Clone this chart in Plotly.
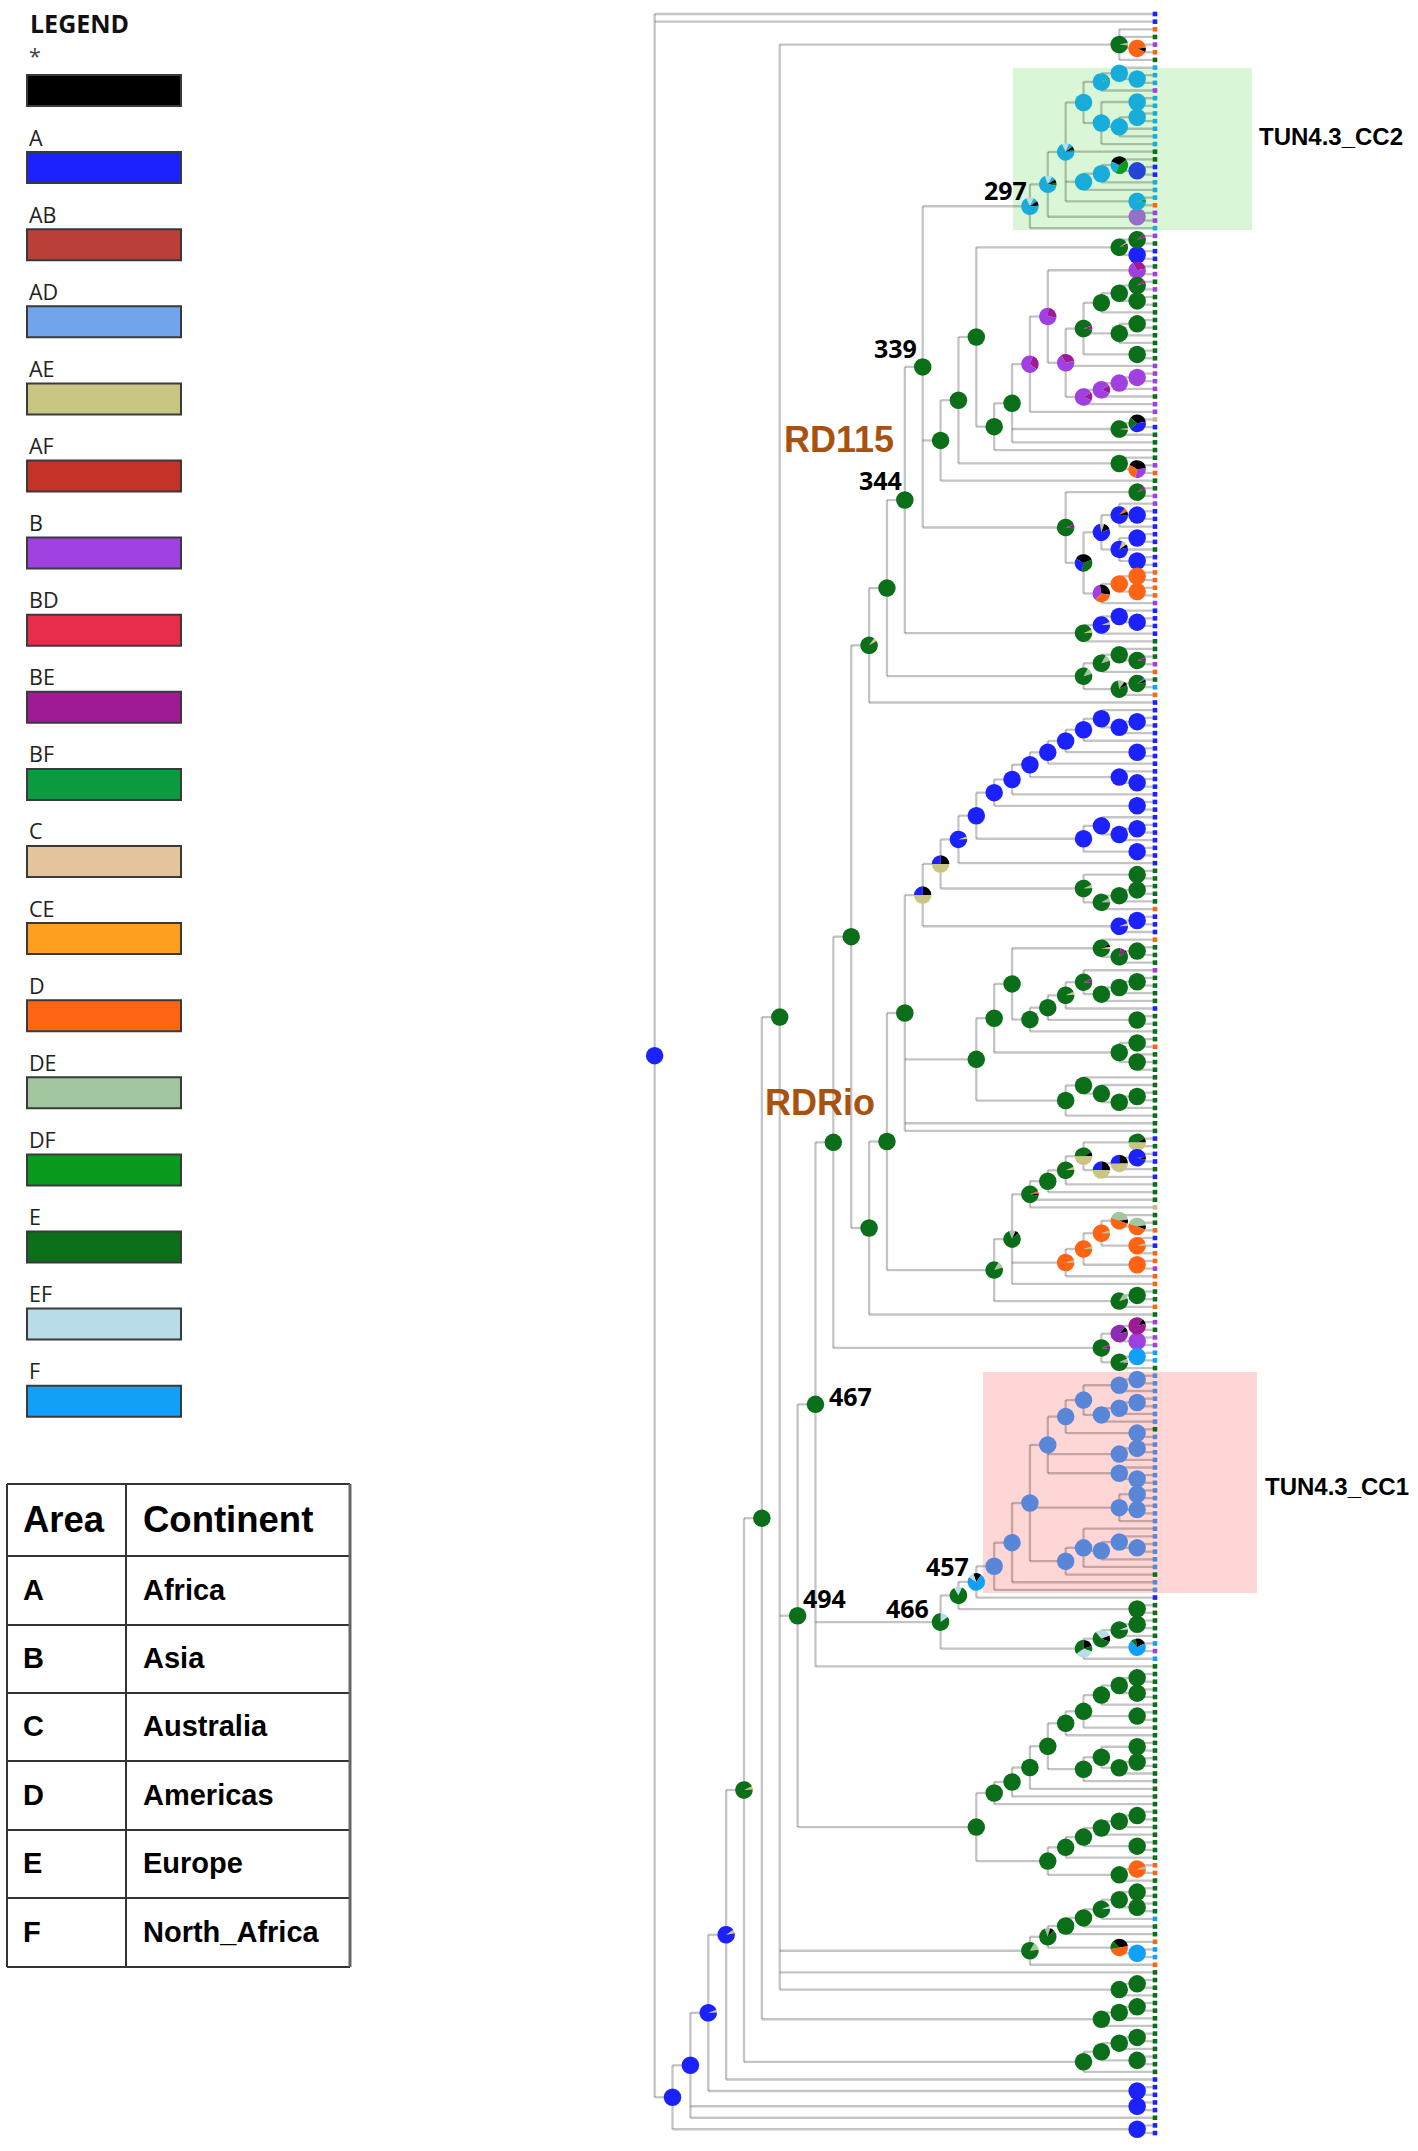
import plotly.graph_objects as go

# ---------- data ----------
COLORS = {"k": "#000000", "A": "#1c22ff", "a": "#2344d6", "AB": "#b93f38", "AD": "#72a4ec", "AE": "#c9c583",
          "AF": "#c43228", "B": "#a040e0", "BD": "#e82c4c", "BE": "#a01a96", "BF": "#0c9a40", "C": "#c8b88a",
          "Cl": "#e4c49c", "CE": "#ffa020", "D": "#ff6414", "DE": "#a2c79e", "DF": "#0a9a1e", "E": "#0b6e18",
          "EF": "#b8dde8", "F": "#10a0f8", "T": "#18acda", "P": "#5a86d8", "M": "#9570c8", "Bm": "#8f2ab4"}

LEGEND_LABELS = ["*", "A", "AB", "AD", "AE", "AF", "B", "BD", "BE", "BF", "C", "CE", "D", "DE", "DF", "E", "EF", "F"]
LEGEND_KEYS = ["k", "A", "AB", "AD", "AE", "AF", "B", "BD", "BE", "BF", "Cl", "CE", "D", "DE", "DF", "E", "EF", "F"]
AREAS = ["Area", "A", "B", "C", "D", "E", "F"]
CONTINENTS = ["Continent", "Africa", "Asia", "Australia", "Americas", "Europe", "North_Africa"]

# clockwise slices: states, shares, start angle from 12 o'clock
PIES = {
    "p01": (["DE", "E"], [.05, .95], 78), "p02": (["k", "D"], [.08, .92], 85),
    "p03": (["DF", "T"], [.03, .97], 60), "p04": (["k", "DF", "T"], [.33, .42, .25], 295),
    "p05": (["DF", "T"], [.05, .95], 75), "p06": (["EF", "T", "k", "E", "T"], [.13, .08, .07, .03, .69], 335),
    "p07": (["EF", "T", "k", "E", "T"], [.14, .07, .08, .04, .67], 340),
    "p08": (["EF", "T", "k", "T"], [.14, .08, .09, .69], 335),
    "p09": (["AE", "k", "E"], [.03, .03, .94], 55), "p10": (["BE", "E"], [.06, .94], 50),
    "p11": (["BE", "B"], [.3, .7], 330), "p12": (["BE", "B"], [.25, .75], 5),
    "p13": (["BE", "E"], [.07, .93], 70), "p14": (["BE", "B"], [.15, .85], 60),
    "p15": (["k", "A", "E"], [.36, .42, .22], 310), "p16": (["AE", "E"], [.03, .97], 85),
    "p17": (["k", "B", "D"], [.4, .3, .3], 300), "p18": (["D", "k", "A"], [.07, .07, .86], 40),
    "p19": (["AE", "k", "A"], [.08, .14, .78], 350), "p20": (["AE", "k", "A"], [.1, .06, .84], 20),
    "p21": (["k", "E", "A"], [.36, .34, .3], 300), "p22": (["k", "D", "B"], [.3, .35, .35], 350),
    "p23": (["AE", "E"], [.06, .94], 65), "p24": (["AE", "A"], [.05, .95], 70),
    "p25": (["DE", "E"], [.12, .88], 30), "p26": (["DE", "k", "E"], [.13, .07, .8], 350),
    "p27": (["F", "k", "E"], [.03, .05, .92], 55), "p28": (["AE", "E"], [.07, .93], 35),
    "p29": (["k", "AE", "A"], [.25, .5, .25], 0), "p30": (["DE", "E"], [.08, .92], 60),
    "p31": (["k", "AE", "E"], [.06, .04, .9], 60), "p32": (["BE", "k", "E"], [.1, .02, .88], 10),
    "p33": (["E", "k", "AE"], [.42, .08, .5], 270), "p34": (["k", "A"], [.05, .95], 85),
    "p35": (["D", "k", "E"], [.04, .04, .92], 70), "p36": (["DE", "k", "D"], [.42, .08, .5], 290),
    "p37": (["DE", "D"], [.05, .95], 72), "p38": (["DE", "k", "E"], [.12, .07, .81], 340),
    "p39": (["k", "BE"], [.1, .9], 40), "p40": (["k", "Bm"], [.1, .9], 40),
    "p41": (["BE", "E"], [.08, .92], 70), "p42": (["k", "F", "EF"], [.15, .75, .1], 340),
    "p43": (["EF", "E"], [.15, .85], 330), "p44": (["EF", "E"], [.05, .95], 68),
    "p45": (["EF", "k", "E"], [.3, .12, .58], 320), "p46": (["k", "E", "EF", "E"], [.2, .1, .35, .35], 0),
    "p47": (["E", "k", "F"], [.1, .2, .7], 315), "p48": (["EF", "E"], [.15, .85], 0),
    "p49": (["k", "D", "E"], [.35, .5, .15], 315), "p50": (["DE", "k", "E"], [.1, .08, .82], 340),
    "p51": (["DE", "E"], [.15, .85], 30), "p52": (["AE", "A"], [.07, .93], 55),
    "p53": (["AE", "A"], [.05, .95], 70), "p54": (["BE", "B"], [.3, .7], 20),
    "p55": (["DE", "k", "E"], [.08, .02, .9], 65),
}

# topology, read top to bottom; leaf = tip state, ")X" = state or pie of that node
TOP = "(D,E,(B,D)p02,E)p01"
CC2_A = "(((T,(T,T)T)T,B)p03,((T,T)T,((T,T)T,T,T)T,T)T)T"
CC2_B = "(((E,(A,A)a)p04,T)T,T)T"
CC2_C = f"({CC2_A},E,{CC2_B},(T,D)p05)p06"
CC2 = f"(({CC2_C},(B,B)M)p07,T)p08"
R1 = "((B,E)p10,(A,A)A)p09"
R2 = "(((E,B)p10,(E,E)E)E,E)E"
R3 = f"({R2},((E,E)E,E,E)E,(E,E)E)p13"
R4 = "((((B,B)B,B)B,E)p14,B)p14"
R5 = f"({R3},B,{R4})p11"
R6 = f"((E,B)p11,{R5})p12"
R7 = f"({R6},B)p54"
R8 = f"({R7},((C,A)p15,E)p16,E)E"
R9 = f"({R8},E)E"
R10 = f"({R1},{R9})E"
R11 = f"({R10},(E,(B,D)p17)E)E"
R12 = f"({R11},E)E"
S1 = "(B,(A,A)A,A)p18"
S2 = "((A,A)A,E,(A,A)A)p20"
S3 = f"({S1},{S2})p19"
S4 = "(((D,D)D,(D,D)D)D,B)p22"
S5 = f"((E,B)p10,({S3},{S4})p21)p13"
N339 = f"({CC2},{R12},{S5})E"
N344 = f"({N339},(((A,(A,A)A)A,A)p24,E)p23)E"
Q1 = "((E,(E,B)p13)E,D)p25"
Q2 = "((E,F)p27,D)p26"
N462A = f"(({N344},({Q1},{Q2})p25)E,A)p28"
B1 = "(A,((A,A)A,A)A)A"
B2 = f"({B1},A)A"
B3 = f"({B2},(A,A)A)A"
B4 = f"({B3},A)A"
B5 = f"({B4},(A,(A,A)A)A)A"
B6 = f"({B5},A)A"
B7 = f"({B6},(A,A)A)A"
B8 = "((A,((A,A)A,A)A)A,(A,A)A)A"
B9 = f"(({B7},{B8})A,A)p24"
G1 = "((E,E)E,(((E,E)E,E)E,D)p30)p23"
B10 = f"(({B9},{G1})p29,((A,A)A,A)p24)p29"
G2 = "(D,((E,E)E,E)p32)p31"
G3 = "((B,(((E,E)E,E)E,E)E)p13,A)p23"
G4 = f"(({G3},(E,E)E)E,E)E"
G5 = f"(({G2},{G4})E,((E,D)E,(E,E,E)E)E)E"
G6 = "((E,(E,((E,E)E,E)E)E)E,E)E"
N534 = f"({B10},({G5},{G6})E,E,E)E"
M1 = "((A,E)p33,(((A,A)p34,E)p29,A)p29)p33"
M2 = f"((({M1},E)p23,E)E,E,C)p35"
O1 = "(E,(E,D)p36)p36"
O2 = f"((({O1},(A,A,D)p37)p37,(D,B)D)p37,D)p37"
M3 = f"({M2},{O2},D)p38"
N426 = f"({N462A},(({N534},({M3},((E,E)E,D)p25)p25)E,E)E)E"
V1 = "(((B,E)p39,(B,B)B)p40,((F,F)F,E)p55)p41"
N390 = f"({N426},{V1})E"
C1 = "(((P,P)P,P)P,(((P,P)P,P)P,P)P)P"
C2 = f"({C1},(E,P)P)P"
C3 = f"({C2},((P,P)P,P)P,(P,(P,P)P)P)P"
C4 = "((P,P)P,(P,P)P,P)P"
C5 = "(P,((P,(P,P)P)P,P)P,P)P"
C6 = f"({C3},{C4},({C5},E)P)P"
CC1 = f"((({C6},P)P,P)P,A)p42"
K1 = "((((E,E)E,E)p44,(F,B)p47)p45,F)p46"
N354 = f"({N390},(({CC1},(E,E)E)p43,{K1})p48,E)E"
L1 = "(((((E,E)E,(E,E)E)E,E)E,(E,E)E,E)E,E)E"
L2 = "(((E,E)E,((E,E)E,E)E)E,E)E"
L3 = f"((({L1},{L2})E,E)E,E)E"
L4 = f"({L3},E)E"
W1 = "((((E,E)E,E)E,E)E,(E,E)E)E"
W2 = f"(({W1},E)E,((D,D)p37,E)E)E"
N318 = f"({N354},({L4},{W2})E)E"
Y1 = "((((E,E)E,(E,E)E)E,F)p44,E)E"
Y2 = f"(({Y1},E)E,(D,(F,F)F)p49)p50"
N282 = f"({TOP},{N318},({Y2},D)p51,E,((E,E)E,E)E)E"
N246 = f"({N282},(((E,E)E,E)E,E)E)E"
N210 = f"({N246},((((E,E)E,E)E,(E,E)E)E,E)E)p23"
N138 = f"(({N210},A)p52,(A,A)A)p53"
N66 = f"(({N138},(A,A)A,E)A,(A,A)A)A"
TREE = f"(A,A,{N66})A"

CLADE_BOXES = [("TUN4.3_CC2", "#d9f7d6"), ("TUN4.3_CC1", "#ffd6d6")]
NODE_NUMBERS = ["297", "339", "344", "467", "494", "457", "466"]
GROUP_NAMES = ["RD115", "RDRio"]

# ---------- layout constants (pixels) ----------
W, H = 1418, 2151
TIP_PX, LEVEL_PX = 1155.0, 17.87
TOP_PX, ROW_PX = 14.0, 7.65
NODE_D = 17.5


def parse(text):
    stack, pos = [], 0
    root = None
    while pos < len(text):
        ch = text[pos]
        if ch == "(":
            stack.append({"kids": []})
            pos += 1
        elif ch == ",":
            pos += 1
        else:
            end = pos + (1 if ch == ")" else 0)
            start = end
            while end < len(text) and text[end] not in "(),":
                end += 1
            label = text[start:end]
            if ch == ")":
                node = stack.pop()
                node["label"] = label
            else:
                node = {"kids": [], "label": label}
            if stack:
                stack[-1]["kids"].append(node)
            else:
                root = node
            pos = end
    return root


root = parse(TREE)
tips, nodes = [], []


def place(n):
    if not n["kids"]:
        n["level"], n["row"] = 0, len(tips)
        tips.append(n)
        return
    for k in n["kids"]:
        place(k)
    n["level"] = 1 + max(k["level"] for k in n["kids"])
    n["row"] = (n["kids"][0]["row"] + n["kids"][-1]["row"]) / 2
    nodes.append(n)


place(root)

lx, ly = [], []
for n in nodes:
    lx += [n["level"], n["level"], None]
    ly += [n["kids"][0]["row"], n["kids"][-1]["row"], None]
    for k in n["kids"]:
        lx += [n["level"], k["level"], None]
        ly += [k["row"], k["row"], None]

fig = go.Figure()
fig.add_trace(go.Scatter(x=lx, y=ly, mode="lines", line=dict(color="rgba(0,0,0,0.23)", width=2.3),
                         hoverinfo="skip", showlegend=False))
fig.add_trace(go.Scatter(x=[t["level"] for t in tips], y=[t["row"] for t in tips], mode="markers",
                         marker=dict(symbol="square", size=4.6, color=[COLORS[t["label"]] for t in tips]),
                         hoverinfo="skip", showlegend=False))
solid = [n for n in nodes if n["label"] in COLORS]
fig.add_trace(go.Scatter(x=[n["level"] for n in solid], y=[n["row"] for n in solid], mode="markers",
                         marker=dict(size=NODE_D, color=[COLORS[n["label"]] for n in solid], line=dict(width=0)),
                         hoverinfo="skip", showlegend=False))
for n in nodes:
    if n["label"] in PIES:
        st, sh, rot = PIES[n["label"]]
        cx = TIP_PX - LEVEL_PX * n["level"]
        cy = TOP_PX + ROW_PX * n["row"]
        r = NODE_D / 2
        fig.add_trace(go.Pie(values=sh, labels=[str(i) for i in range(len(sh))], sort=False, direction="clockwise",
                             rotation=rot, textinfo="none", hoverinfo="skip", showlegend=False,
                             marker=dict(colors=[COLORS[s] for s in st], line=dict(width=0)),
                             domain=dict(x=[(cx - r) / W, (cx + r) / W], y=[1 - (cy + r) / H, 1 - (cy - r) / H])))


def px(x):
    return x / W


def py(y):
    return 1 - y / H


shapes, ann = [], []


def rect(x0, y0, x1, y1, fill, line=None, lw=0, layer="below"):
    shapes.append(dict(type="rect", xref="paper", yref="paper", x0=px(x0), x1=px(x1), y0=py(y0), y1=py(y1),
                       fillcolor=fill, line=dict(color=line or fill, width=lw), layer=layer))


def hv(x0, y0, x1, y1, color="#333333", lw=2):
    shapes.append(dict(type="line", xref="paper", yref="paper", x0=px(x0), x1=px(x1), y0=py(y0), y1=py(y1),
                       line=dict(color=color, width=lw)))


def text(s, x, y, size, color="#000000", family="Liberation Sans", anchor="left"):
    ann.append(dict(text=s, xref="paper", yref="paper", x=px(x), y=py(y), xanchor=anchor, yanchor="middle",
                    showarrow=False, font=dict(size=size, color=color, family=family), borderpad=0, borderwidth=0))


# clade boxes
rect(1013, 68, 1252, 230, CLADE_BOXES[0][1])
rect(983, 1372, 1257, 1593, CLADE_BOXES[1][1])
text(f"<b>{CLADE_BOXES[0][0]}</b>", 1259, 136, 24)
text(f"<b>{CLADE_BOXES[1][0]}</b>", 1265, 1486, 24)

# node numbers
for s, (x, y) in zip(NODE_NUMBERS, [(1005, 190), (895, 348), (880, 480), (851, 1396), (824, 1598), (947, 1566), (907, 1608)]):
    text(f"<b>{s}</b>", x, y, 25, family="Open Sans", anchor="center")

# group names
text(f"<b>{GROUP_NAMES[0]}</b>", 784, 439, 36, color="#a9520f")
text(f"<b>{GROUP_NAMES[1]}</b>", 765, 1102, 36, color="#a9520f")

# legend
text("<b>LEGEND</b>", 30, 23, 25, color="#111111", family="Open Sans")
for i, (lab, key) in enumerate(zip(LEGEND_LABELS, LEGEND_KEYS)):
    top = 75 + i * 77.1
    rect(27, top, 181, top + 31, COLORS[key], line="#3a3a3a", lw=2, layer="above")
    text(lab, 29, top - (19 if i == 0 else 15), 21.5, color="#444444" if i == 0 else "#222222", family="Open Sans")

# table
ROWS = [1484, 1556, 1625, 1693, 1761, 1830, 1898, 1967]
for y in ROWS:
    hv(7, y, 350, y)
hv(7, ROWS[0], 7, ROWS[-1])
hv(126, ROWS[0], 126, ROWS[-1])
hv(350, ROWS[0], 350, ROWS[-1], color="#666666", lw=3)
for i in range(len(AREAS)):
    yc = (ROWS[i] + ROWS[i + 1]) / 2 - 1
    size = 36.5 if i == 0 else 29
    text(f"<b>{AREAS[i]}</b>", 23, yc, size)
    text(f"<b>{CONTINENTS[i]}</b>", 143, yc, size)

fig.update_layout(
    width=W, height=H, margin=dict(l=0, r=0, t=0, b=0, pad=0), paper_bgcolor="white", plot_bgcolor="rgba(0,0,0,0)",
    showlegend=False, shapes=shapes, annotations=ann,
    xaxis=dict(visible=False, range=[TIP_PX / LEVEL_PX, (TIP_PX - W) / LEVEL_PX], domain=[0, 1]),
    yaxis=dict(visible=False, range=[(H - TOP_PX) / ROW_PX, -TOP_PX / ROW_PX], domain=[0, 1]),
)
fig.write_html("out.html", post_script="document.body.style.margin='0';document.body.style.overflow='hidden';",
               config=dict(displayModeBar=False))
